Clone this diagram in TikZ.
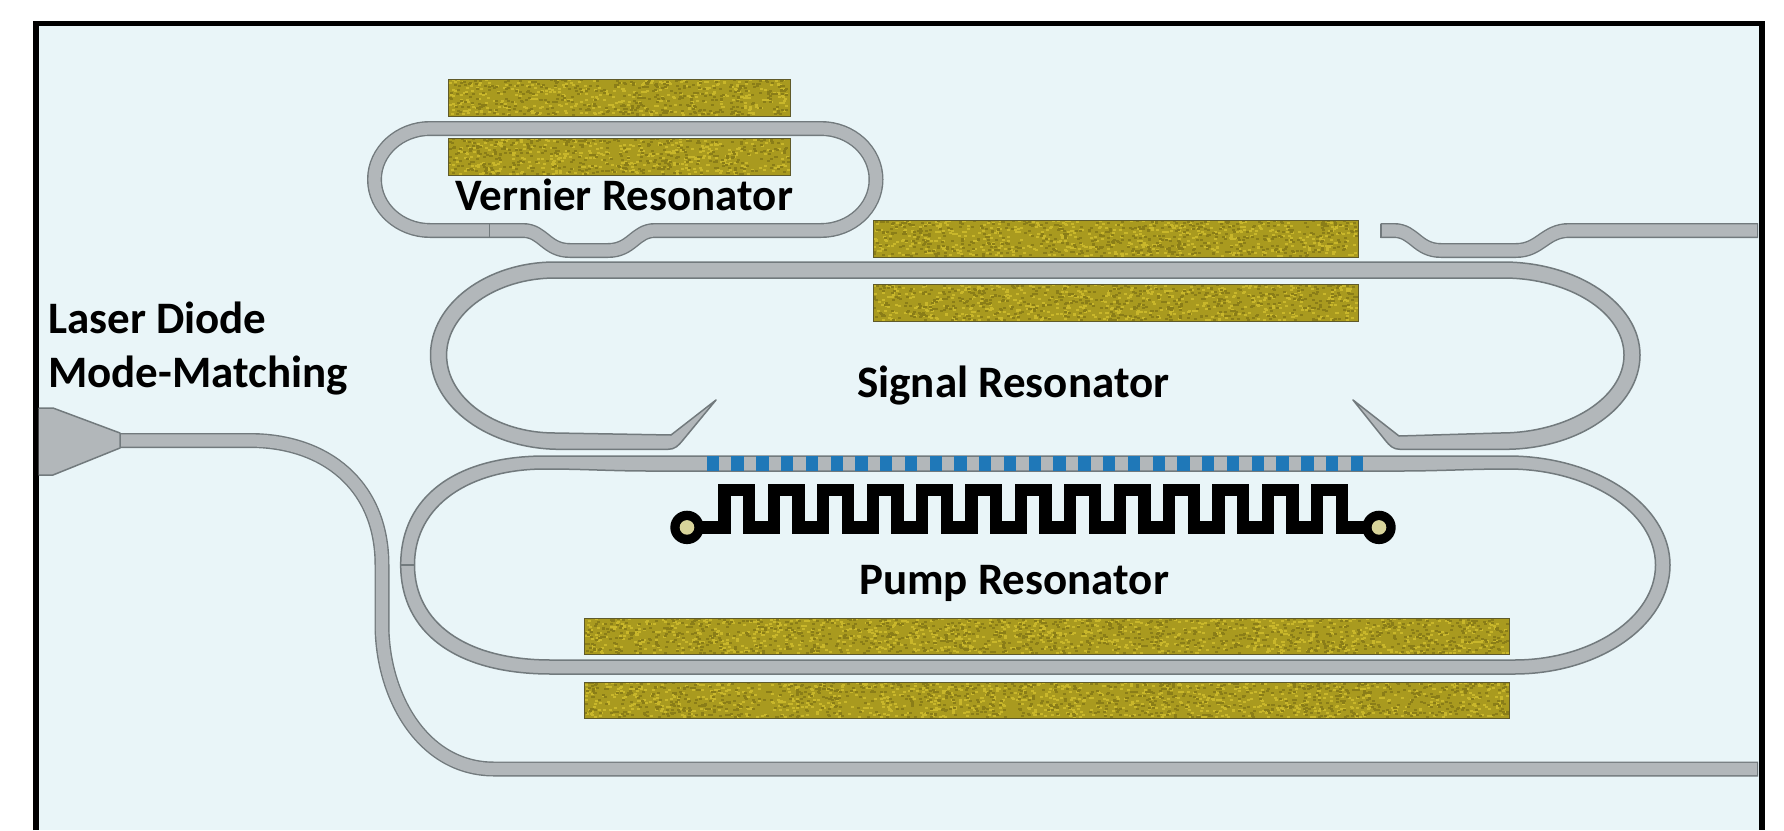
\documentclass[tikz,border=0pt]{standalone}
\usepackage{fontspec}
\setmainfont{Carlito}
\definecolor{chipbg}{HTML}{E9F5F8}
\definecolor{wgfill}{HTML}{B2B7BA}
\definecolor{wgline}{HTML}{727A7D}
\definecolor{padgold}{HTML}{A99A1F}
\definecolor{padlight}{HTML}{C9B72B}
\definecolor{paddark}{HTML}{8A7D18}
\definecolor{padrim}{HTML}{5F5A2A}
\definecolor{grating}{HTML}{1F78B8}
\definecolor{padcore}{HTML}{D8D49A}
\tikzset{
  wgedge/.style={draw=wgline,line width=15pt,line join=round},
  wgcore/.style={draw=wgfill,line width=12.2pt,line join=round},
  wgband/.style={fill=wgfill,draw=wgline,line width=1.5pt,even odd rule,line join=round},
  wgtick/.style={draw=wgline,line width=1.5pt},
  trace/.style={draw=black,line width=12.3pt,line join=miter},
  label/.style={font=\fontsize{45}{48}\selectfont\bfseries,anchor=base west,inner sep=0pt,text=black},
}
\newcommand\wgpath[1]{\draw[wgedge]#1;\draw[wgcore]#1;}
\newcommand\speckle[5]{%
  \pgfmathtruncatemacro\speckn{(#3-#1)/32*(#4-#2)}%
  \pgfmathtruncatemacro\specke{#3-3}%
  \pgfmathtruncatemacro\speckf{#4-2}%
  \begin{pgfscope}\pgfsetfillcolor{#5}%
  \foreach \speckk in {1,...,\speckn}{%
    \pgfmathrandominteger\speckx{#1}{\specke}%
    \pgfmathrandominteger\specky{#2}{\speckf}%
    \pgfpathrectangle{\pgfqpoint{\speckx pt}{-\specky pt}}{\pgfqpoint{2.6pt}{-1.6pt}}%
    \pgfusepath{fill}}%
  \end{pgfscope}}
\newcommand\goldpad[4]{%
  \fill[padgold] (#1,#2) rectangle (#3,#4);
  \speckle{#1}{#2}{#3}{#4}{padlight}
  \speckle{#1}{#2}{#3}{#4}{paddark}
  \draw[padrim,line width=1pt] (#1,#2) rectangle (#3,#4);}
\begin{document}
\begin{tikzpicture}[x=1pt,y=-1pt]
\pgfmathsetseed{4242}
\useasboundingbox (0,0) rectangle (1784,830);
\fill[white] (0,0) rectangle (1784,830);
\fill[chipbg] (36,23.5) rectangle (1762,830);
\draw[black,line width=5.5pt,line join=miter] (36,830) -- (36,23.5) -- (1762,23.5) -- (1762,830);

% gold pads
\goldpad{448}{79}{790}{116}
\goldpad{448}{138}{790}{175}
\goldpad{873}{220}{1358}{257}
\goldpad{873}{284}{1358}{321}
\goldpad{584}{618}{1509}{654}
\goldpad{584}{682}{1509}{718}

% vernier resonator
\wgpath{(430,128.5) -- (821,128.5) .. controls (851,128.5) and (876,151) .. (876,179.5)
  .. controls (876,208) and (851,230.5) .. (821,230.5) -- (655,230.5)
  .. controls (635,230.5) and (632,250.5) .. (608,250.5) -- (570,250.5)
  .. controls (546,250.5) and (543,230.5) .. (523,230.5) -- (430,230.5)
  .. controls (400,230.5) and (374.5,208) .. (374.5,179.5)
  .. controls (374.5,151) and (400,128.5) .. (430,128.5) -- cycle}
\draw[wgtick] (489.5,224) -- (489.5,237);

% output bus, top right
\wgpath{(1380.5,230.5) -- (1394,230.5) .. controls (1414,230.5) and (1417,250.5) .. (1441,250.5)
  -- (1516,250.5) .. controls (1540,250.5) and (1545,230.5) .. (1569,230.5) -- (1758,230.5)}
\draw[wgtick] (1381,223.5) -- (1381,237.5);
\draw[wgtick] (1757.5,223.5) -- (1757.5,237.5);

% signal resonator
\path[wgband] (716,400) -- (683,440) .. controls (678,446) and (675,449.3) .. (668,449.3)
  -- (560,449.3) .. controls (489,449.3) and (430.5,407) .. (430.5,355)
  .. controls (430.5,304) and (486.5,262) .. (555,262) -- (1503,262)
  .. controls (1578,262) and (1640,304) .. (1640,355)
  .. controls (1640,407) and (1579,449.3) .. (1505,449.3) -- (1400,449.3)
  .. controls (1393,449.3) and (1390,446) .. (1385,440) -- (1353,400)
  -- (1399,436) -- (1500,433) .. controls (1568,433) and (1624,398) .. (1624,355)
  .. controls (1624,313) and (1570,278) .. (1503,278) -- (555,278)
  .. controls (496,278) and (446.6,313) .. (446.6,355)
  .. controls (446.6,398) and (495,433) .. (555,433) -- (671,435) -- cycle;

% pump resonator
\path[wgband] (545,456) -- (1508,456) .. controls (1597,456) and (1670,505) .. (1670,565)
  .. controls (1670,625) and (1600,674) .. (1514,674) -- (551,674)
  .. controls (455,674) and (400.7,632) .. (400.7,565)
  .. controls (400.7,495) and (458,456) .. (545,456) -- cycle
  (545,469) .. controls (470,469) and (414.5,505) .. (414.5,565)
  .. controls (414.5,622) and (465,660) .. (551,660) -- (1514,660)
  .. controls (1592,660) and (1655.5,617) .. (1655.5,565)
  .. controls (1655.5,512) and (1589,469) .. (1508,469)
  .. controls (1470,469) and (1440,471) .. (1400,471) -- (650,471)
  .. controls (610,471) and (585,469) .. (545,469) -- cycle;
\draw[wgtick] (400.7,565) -- (414.5,565);
\foreach \n in {0,...,26}{
  \fill[grating] ({706.7+\n*24.77},456) rectangle ({719+\n*24.77},471.3);
}

% input taper and bus
\wgpath{(120,440.5) -- (250,440.5) .. controls (325,440.5) and (382,485) .. (382,565)
  -- (382,625) .. controls (382,695) and (422,769) .. (494,769) -- (1758,769)}
\draw[wgtick] (1757.5,762) -- (1757.5,776);
\path[fill=wgfill,draw=wgline,line width=1.5pt,line join=round]
  (38.5,408) -- (53,408) -- (120,433) -- (120,448) -- (53,475) -- (38.5,475);

% heater
\draw[trace] (687,527.4)
  foreach \k in {0,2,...,24}{
    -| ({724.5+\k*24.7},490.2) -| ({724.5+(\k+1)*24.7},527.4)
  } -- (1379,527.4);
\fill[black] (687,527.4) circle[radius=16.7];
\fill[padcore] (687,527.4) circle[radius=7.3];
\fill[black] (1379,527.4) circle[radius=16.7];
\fill[padcore] (1379,527.4) circle[radius=7.3];

% labels
\node[label] (vernier) at (455,210) {Vernier Resonator};
\node[label] (signal) at (857,397) {Signal Resonator};
\node[label] (pump) at (859,594.7) {Pump Resonator};
\node[label] (diode) at (48,333) {Laser Diode};
\node[label] (matching) at (48,387.5) {Mode-Matching};
\end{tikzpicture}
\end{document}
